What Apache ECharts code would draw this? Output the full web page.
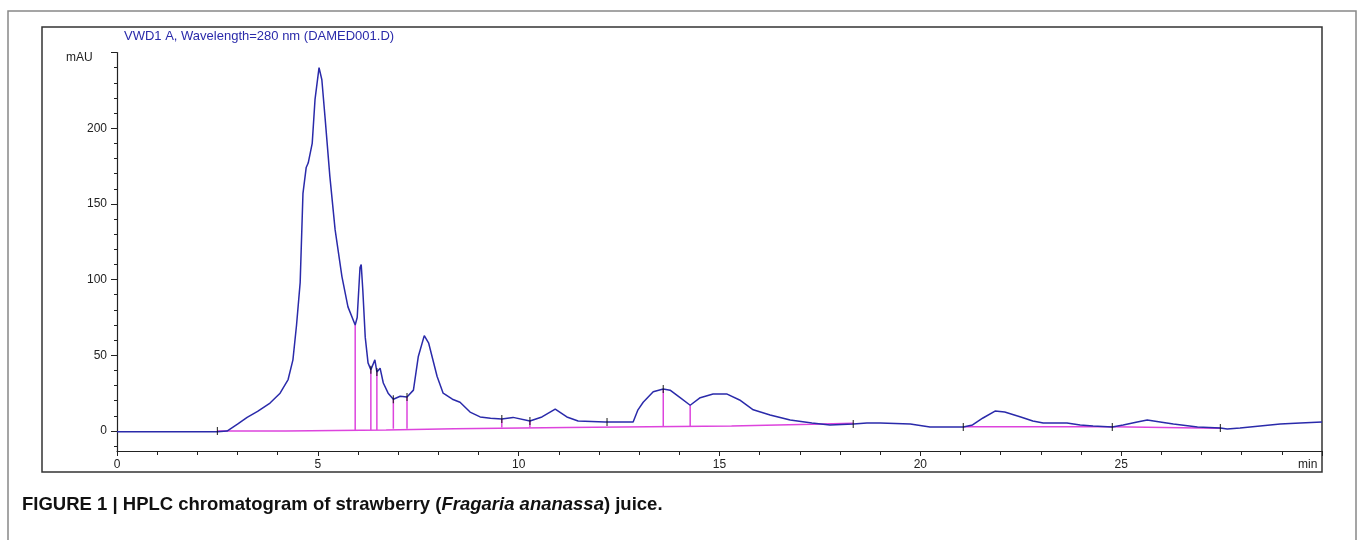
<!DOCTYPE html>
<html>
<head>
<meta charset="utf-8">
<script src="https://cdn.jsdelivr.net/npm/echarts@6/dist/echarts.min.js"></script>
<style>
  html, body { margin: 0; padding: 0; background: #fff; }
  #chart { width: 1358px; height: 540px; }
</style>
</head>
<body>
<div id="chart"></div>
<script>
// retention time (min) and detector signal (mAU)
const timeMin = [0, 2.5, 2.74, 3.0, 3.24, 3.5, 3.81, 4.06, 4.26, 4.38, 4.47, 4.56, 4.63, 4.71, 4.76, 4.86, 4.93, 5.03, 5.10, 5.18,
  5.30, 5.43, 5.60, 5.75, 5.93, 5.98, 6.05, 6.08, 6.12, 6.18, 6.25, 6.32, 6.42, 6.47, 6.55, 6.63, 6.75, 6.88, 7.05, 7.22,
  7.38, 7.50, 7.65, 7.76, 7.97, 8.12, 8.35, 8.54, 8.79, 9.04, 9.3, 9.58, 9.86, 10.28, 10.58, 10.91, 11.2, 11.48, 12.15, 12.85,
  12.97, 13.1, 13.35, 13.6, 13.77, 14.02, 14.27, 14.52, 14.84, 15.19, 15.5, 15.84, 16.26, 16.76, 17.3, 17.75, 18.33, 18.67, 19.0, 19.75,
  20.24, 21.07, 21.3, 21.56, 21.86, 22.1, 22.5, 22.8, 23.06, 23.65, 23.98, 24.3, 24.78, 25.05, 25.4, 25.65, 25.97, 26.3, 26.9, 27.47,
  27.64, 27.96, 28.46, 28.96, 29.46, 30]
const signal = [-0.5, -0.5, 0, 4.5, 9, 13, 18.5, 25, 34, 47, 70, 98, 157, 174, 177, 190, 219, 240, 232, 207,
  168, 133, 102, 82, 70, 75, 108, 110, 93, 62, 45, 40.5, 47, 39, 41.5, 31.7, 25, 21, 23, 22.5,
  27, 49, 63, 58, 36, 25, 21, 19, 12.5, 9.3, 8.5, 8, 9, 6.6, 9.3, 14.5, 9.3, 6.6, 6, 6,
  14, 19, 26, 27.7, 27, 22, 17, 22, 24.4, 24.4, 20.5, 14, 10.6, 7.3, 5.3, 4, 4.6, 5.3, 5.3, 4.6,
  2.6, 2.6, 4, 8.6, 13.2, 12.5, 9.3, 6.6, 5.3, 5.3, 4, 3.3, 2.6, 4, 6, 7.3, 6, 4.6, 2.6, 2,
  1.3, 2, 3.3, 4.6, 5.3, 6]

// integration baseline (magenta), null breaks the line
const baseTime = [2.5, 4.2, 4.2, 6.7, 6.7, 8.4, 8.4, 11.2, 11.2, 15.3, 15.3, 17.3, 17.3, 18.33, null, 21.07, 24.78, 24.78, 26.5, 26.5, 27.47]
const baseValue = [0, 0, 0.7, 0.7, 1.5, 1.5, 2.4, 2.4, 3.3, 3.3, 4.4, 4.4, 5.1, 5.1, null, 2.8, 2.8, 2.2, 2.2, 1.8, 1.8]

// peak split drop lines
const dropTime = [5.93, 6.32, 6.47, 6.88, 7.22, 9.58, 10.28, 13.6, 14.27]
const dropBottom = [0.7, 0.7, 0.7, 1.5, 1.5, 2.4, 2.4, 3.3, 3.3]
const dropTop = [70, 40.5, 39, 21, 22.5, 8, 6.6, 27.7, 17]

// peak start / end event marks
const eventTime = [2.5, 6.32, 6.47, 6.88, 7.22, 9.58, 10.28, 12.2, 13.6, 18.33, 21.07, 24.78, 27.47]
const eventValue = [0, 40.5, 39, 21, 22.5, 8, 6.6, 6, 27.7, 4.6, 2.6, 2.6, 2]

const yMajor = [0, 50, 100, 150, 200, 250]
const yLabels = [0, 50, 100, 150, 200]
const yMinor = [-10, 10, 20, 30, 40, 60, 70, 80, 90, 110, 120, 130, 140, 160, 170, 180, 190, 210, 220, 230, 240]

const traceColor = '#2a2aaa'
const baseColor = '#dd44dd'
const axisColor = '#222'

const zip = (a, b) => a.map((v, i) => (v === null ? [null, null] : [v, b[i]]))
const dropData = dropTime.map((t, i) => [t, dropBottom[i], dropTop[i]])

const myChart = echarts.init(document.getElementById('chart'))
const option = {
  animation: false,
  backgroundColor: '#fff',
  title: [
    {
      text: 'VWD1 A, Wavelength=280 nm (DAMED001.D)',
      left: 119,
      top: 25,
      textStyle: { fontFamily: 'Liberation Sans', fontSize: 13, fontWeight: 'normal', color: traceColor },
    },
    {
      text: '{b|FIGURE 1 | HPLC chromatogram of strawberry (}{i|Fragaria ananassa}{b|) juice.}',
      left: 17,
      top: 490,
      textStyle: {
        rich: {
          b: { fontFamily: 'Liberation Sans', fontSize: 18.5, fontWeight: 'bold', color: '#111' },
          i: { fontFamily: 'Liberation Sans', fontSize: 18.5, fontWeight: 'bold', fontStyle: 'italic', color: '#111' },
        },
      },
    },
  ],
  graphic: [
    { type: 'rect', shape: { x: 8, y: 11, width: 1348, height: 600 }, style: { fill: 'none', stroke: '#888', lineWidth: 1.5 }, silent: true },
    { type: 'rect', shape: { x: 42, y: 27, width: 1280, height: 445 }, style: { fill: 'none', stroke: '#333', lineWidth: 1.5 }, silent: true },
    { type: 'text', left: 66, top: 52, style: { text: 'mAU', font: '12px Liberation Sans', fill: axisColor } },
    { type: 'text', left: 1298, top: 459, style: { text: 'min', font: '12px Liberation Sans', fill: axisColor } },
  ],
  grid: { left: 117, right: 36, top: 52.5, bottom: 89, containLabel: false },
  xAxis: {
    type: 'value',
    min: 0,
    max: 30,
    interval: 5,
    axisLine: { onZero: false, lineStyle: { color: axisColor, width: 1.2 } },
    axisTick: { length: 5, lineStyle: { color: axisColor } },
    minorTick: { show: true, splitNumber: 5, length: 4, lineStyle: { color: axisColor } },
    axisLabel: { showMaxLabel: false, margin: 8, fontFamily: 'Liberation Sans', fontSize: 12, color: axisColor },
    splitLine: { show: false },
  },
  yAxis: [
    {
      type: 'value',
      min: -13.2,
      max: 250,
      axisLine: { show: true, onZero: false, lineStyle: { color: axisColor, width: 1.2 } },
      axisTick: { customValues: yMajor, length: 6, lineStyle: { color: axisColor } },
      axisLabel: {
        customValues: yLabels,
        margin: 10,
        fontFamily: 'Liberation Sans',
        fontSize: 12,
        color: axisColor,
      },
      splitLine: { show: false },
    },
    {
      type: 'value',
      min: -13.2,
      max: 250,
      position: 'left',
      axisLine: { show: false },
      axisTick: { customValues: yMinor, length: 3, lineStyle: { color: axisColor } },
      axisLabel: { show: false },
      splitLine: { show: false },
    },
  ],
  series: [
    {
      name: 'baseline',
      type: 'line',
      data: zip(baseTime, baseValue),
      showSymbol: false,
      connectNulls: false,
      lineStyle: { color: baseColor, width: 1.5 },
      z: 2,
    },
    {
      name: 'drops',
      type: 'custom',
      data: dropData,
      encode: { x: 0, y: [1, 2] },
      renderItem: (params, api) => {
        const p1 = api.coord([api.value(0), api.value(1)])
        const p2 = api.coord([api.value(0), api.value(2)])
        return {
          type: 'line',
          shape: { x1: p1[0], y1: p1[1], x2: p2[0], y2: p2[1] },
          style: { stroke: baseColor, lineWidth: 1.5 },
        }
      },
      z: 2,
    },
    {
      name: 'VWD1 A',
      type: 'line',
      data: zip(timeMin, signal),
      showSymbol: false,
      lineStyle: { color: traceColor, width: 1.5 },
      z: 3,
    },
    {
      name: 'events',
      type: 'scatter',
      data: zip(eventTime, eventValue),
      symbol: 'rect',
      symbolSize: [1.2, 8],
      itemStyle: { color: '#111' },
      z: 4,
    },
  ],
}
myChart.setOption(option)
</script>
</body>
</html>
